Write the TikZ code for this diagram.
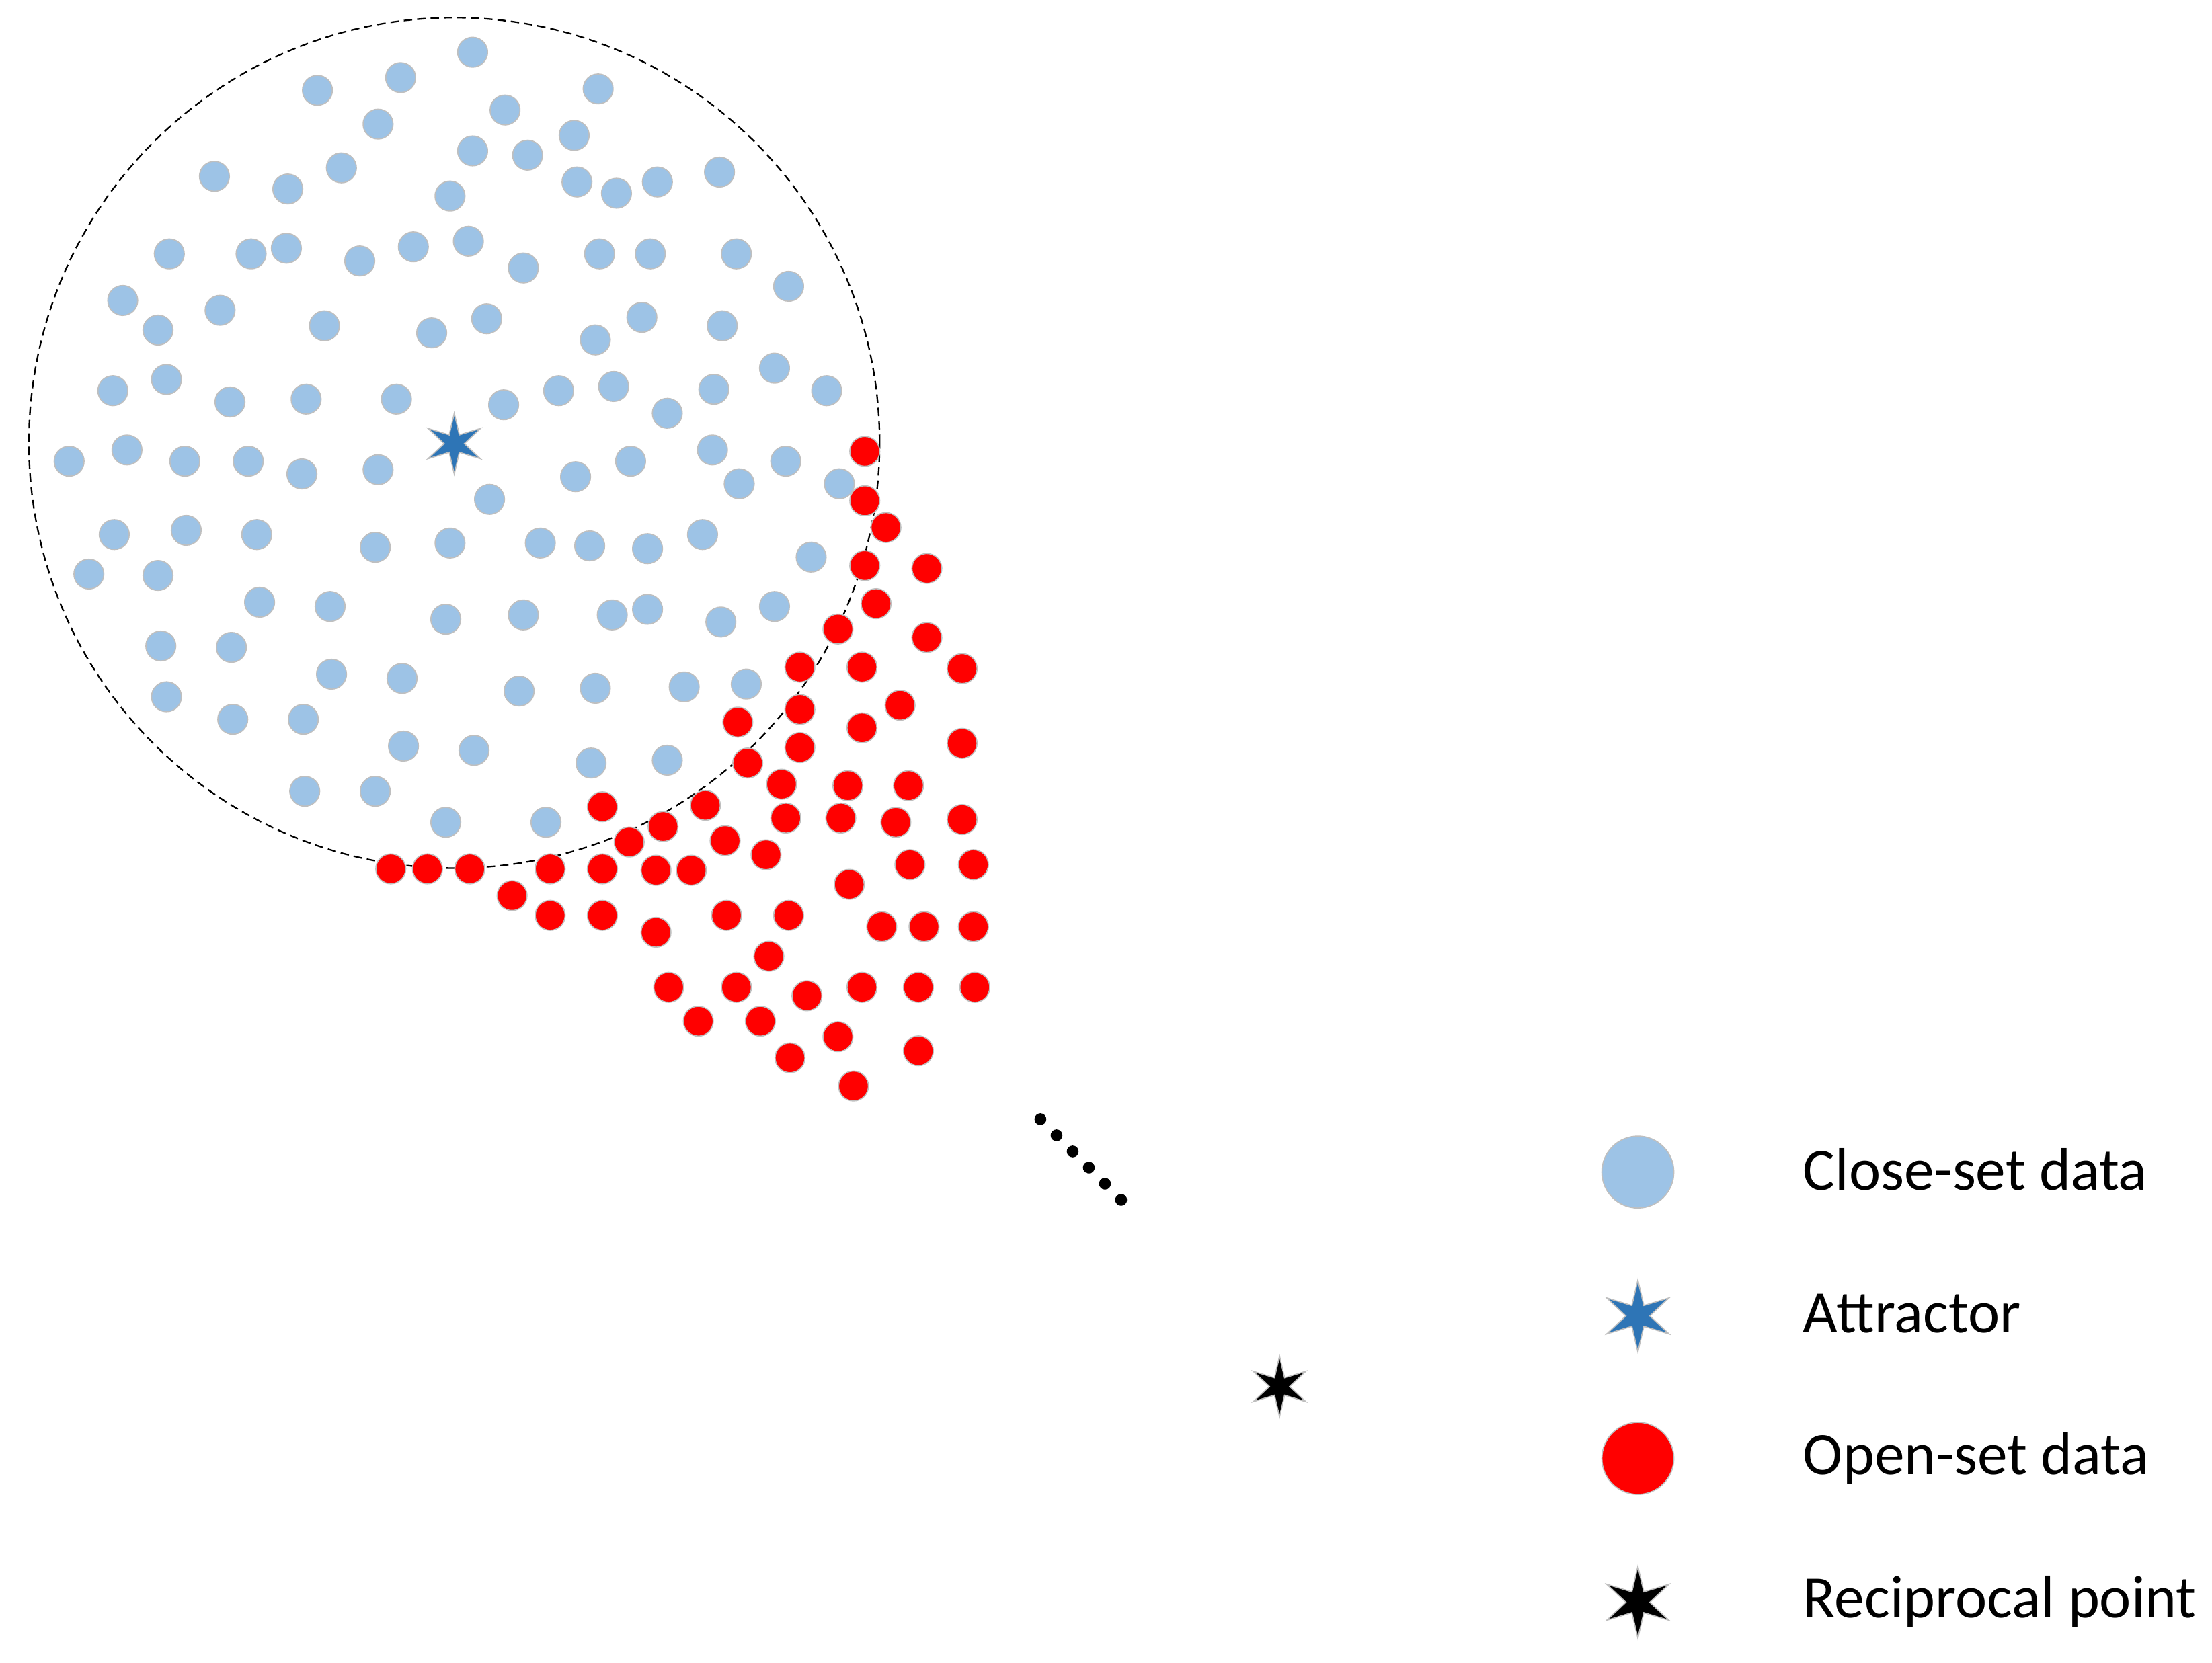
\documentclass[tikz,border=0pt]{standalone}
\usepackage{fontspec}
\setmainfont{Carlito}
\usetikzlibrary{shapes.geometric}
\definecolor{closeblue}{HTML}{9DC3E6}
\definecolor{openred}{HTML}{FF0000}
\definecolor{attrblue}{HTML}{2E75B6}
\definecolor{rimgray}{HTML}{BFBFBF}
\tikzset{
  bdot/.style={circle, fill=closeblue, draw=rimgray, line width=0.8pt, inner sep=0pt, minimum size=21.2pt},
  rdot/.style={circle, fill=openred, draw=rimgray, line width=0.8pt, inner sep=0pt, minimum size=21.2pt},
  starmark/.style={star, star points=6, star point ratio=3, draw=rimgray, line width=0.8pt, inner sep=0pt, minimum size=#1},
  boundary/.style={draw=black, line width=1.1pt, dash pattern=on 6pt off 3.5pt},
  legtext/.style={anchor=base west, font=\fontsize{42.6}{50}\selectfont, inner sep=0pt}
}
\begin{document}
\begin{tikzpicture}[x=1pt,y=-1pt]
\useasboundingbox (0,0) rectangle (1568,1179);
% dashed boundary
\node[circle, boundary, minimum size=603pt, inner sep=0pt] (boundary) at (322,314) {};
% close-set data
\foreach \x/\y [count=\i] in {
335/37,284/55,225/64,424/63,358/78,268/88,407/96,335/107,374/110,242/119,152/125,204/134,409/129,437/137,466/129,510/122,319/139,
120/180,178/180,203/176,255/185,293/175,332/171,371/190,425/180,461/180,522/180,559/203,
87/213,156/220,112/234,230/231,306/236,345/226,422/241,455/225,512/231,
80/277,118/269,163/285,217/283,281/283,357/287,396/277,435/274,473/293,506/276,549/261,586/277,
49/327,90/319,131/327,176/327,214/336,268/333,408/338,447/327,505/319,557/327,524/343,595/343,347/354,
81/379,132/376,182/379,266/388,319/385,383/385,418/387,459/389,498/379,575/395,
63/407,112/408,184/427,234/430,316/439,371/436,434/436,459/432,511/441,549/430,
114/458,164/459,235/478,285/481,368/490,422/488,485/487,529/485,
118/494,165/510,215/510,286/529,336/532,419/541,473/539,
216/561,266/561,316/583,387/583}
  \node[bdot] (b\i) at (\x,\y) {};
% open-set data
\foreach \x/\y [count=\i] in {
613/320,613/355,628/374,613/401,657/403,621/428,594/446,657/452,567/473,611/473,682/474,567/503,638/500,523/512,611/516,567/530,682/527,530/541,554/556,601/557,644/557,427/572,500/571,470/586,557/580,596/580,635/583,682/581,446/597,514/596,543/606,
277/616,303/616,333/616,390/616,427/616,465/617,490/617,645/613,690/613,363/635,602/627,
390/649,427/649,465/661,515/649,559/649,625/657,655/657,690/657,545/678,
474/700,522/700,611/700,651/700,691/700,572/706,495/724,539/724,594/735,560/750,651/745,605/770}
  \node[rdot] (r\i) at (\x,\y) {};
% attractor
\node[starmark=43pt, fill=attrblue] (attractor) at (322,314.5) {};
% dots towards reciprocal point
\coordinate (dA) at (737.5,793.5);
\coordinate (dB) at (795.5,851.5);
\draw[line width=8.4pt, line cap=round, dash pattern=on 0pt off 16.18pt] (dA) -- (dB);
% reciprocal point
\node[starmark=43pt, fill=black] (recip) at (907,983) {};
% legend
\node[circle, fill=closeblue, draw=rimgray, line width=0.8pt, inner sep=0pt, minimum size=51pt] (lgclose) at (1161,831) {};
\node[starmark=51pt, fill=attrblue] (lgattr) at (1161,933) {};
\node[circle, fill=openred, draw=rimgray, line width=0.8pt, inner sep=0pt, minimum size=51pt] (lgopen) at (1161,1034) {};
\node[starmark=51pt, fill=black] (lgrecip) at (1161,1136) {};
\node[legtext] (tclose) at (1278,844) {Close-set data};
\node[legtext] (tattr) at (1278,945) {Attractor};
\node[legtext] (topen) at (1278,1045.5) {Open-set data};
\node[legtext] (trecip) at (1278,1147) {Reciprocal point};
\end{tikzpicture}
\end{document}
